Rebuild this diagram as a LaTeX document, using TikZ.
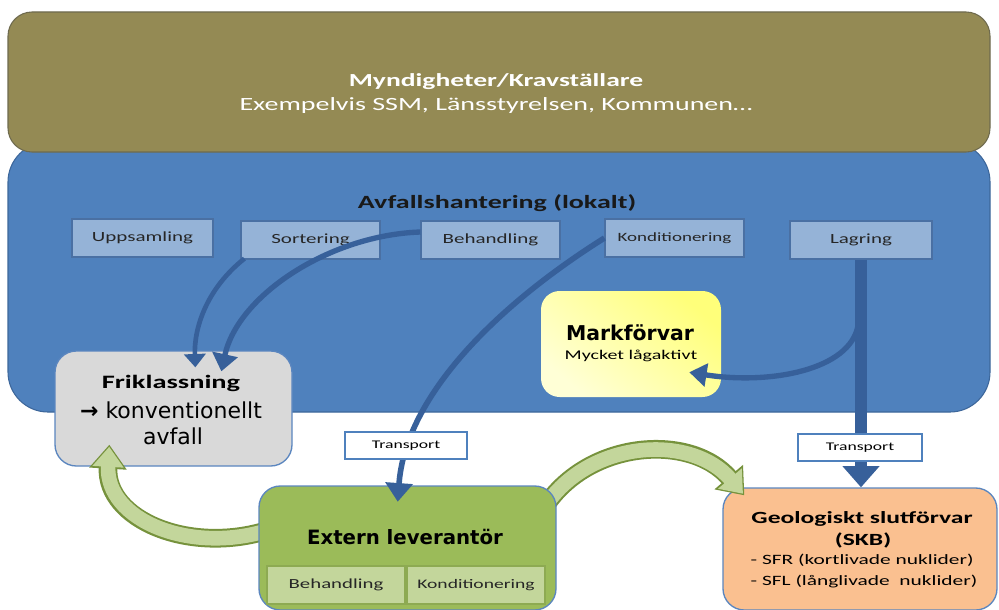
\documentclass[tikz,border=0pt]{standalone}
\usepackage{fontspec}
\setmainfont{Carlito}[FakeStretch=1.5]
\newfontfamily\vfont{DejaVu Sans}
\usetikzlibrary{arrows.meta,calc}
\definecolor{olivebg}{HTML}{948A54}
\definecolor{olivebd}{HTML}{6E6A4E}
\definecolor{bluebg}{HTML}{4F81BD}
\definecolor{bluebd}{HTML}{3D679B}
\definecolor{sboxbg}{HTML}{95B3D7}
\definecolor{sboxbd}{HTML}{4A70A3}
\definecolor{arrowblue}{HTML}{37609A}
\definecolor{frikbg}{HTML}{D9D9D9}
\definecolor{frambd}{HTML}{5B86BF}
\definecolor{yelA}{HTML}{FFFF7A}
\definecolor{yelB}{HTML}{FFFFD6}
\definecolor{extbg}{HTML}{9BBB59}
\definecolor{subbg}{HTML}{C3D69B}
\definecolor{subbd}{HTML}{8DAA52}
\definecolor{geobg}{HTML}{FAC090}
\definecolor{garrbg}{HTML}{C3D69B}
\definecolor{garrbd}{HTML}{76923C}
\begin{document}
\begin{tikzpicture}[x=0.75pt,y=-0.75pt,
  sz/.style 2 args={minimum width=#1*0.75pt, minimum height=#2*0.75pt, inner sep=0pt},
  smallbox/.style={draw=sboxbd, fill=sboxbg, line width=0.9pt, font=\fontsize{10.5}{12}\selectfont, text=black!85},
  subbox/.style={draw=subbd, fill=subbg, line width=0.9pt, text=black!85},
  tbox/.style={draw=bluebg, fill=white, line width=1.1pt, font=\fontsize{8.8}{10}\selectfont, sz={122}{27}},
  bigbox/.style={draw=frambd, line width=1pt, rounded corners=16pt},
  lbl/.style={inner sep=0pt},
  barrow/.style={draw=arrowblue, line cap=butt},
  gout/.style={draw=garrbd, line width=14pt, -{Triangle[length=18pt,width=27pt]}},
  gin/.style={draw=garrbg, line width=11pt, shorten >=1.6pt, -{Triangle[length=15pt,width=22.5pt]}}
]
\useasboundingbox (0,0) rectangle (999,610);
\fill[white] (0,0) rectangle (999,610);

% main areas
\node[draw=bluebd, fill=bluebg, rounded corners=30pt, line width=0.8pt, sz={982}{270}] (local) at (499,277) {};
\node[draw=olivebd, fill=olivebg, rounded corners=18pt, line width=0.8pt, sz={982}{140}] (auth) at (499,82) {};

\node[lbl, text=white, font=\bfseries\fontsize{13.8}{16}\selectfont] (authT) at (496,82) {Myndigheter/Kravställare};
\node[lbl, text=white, font=\fontsize{14}{16}\selectfont] (authS) at (496,106) {Exempelvis SSM, Länsstyrelsen, Kommunen…};
\node[lbl, text=black!90, font=\bfseries\fontsize{14}{16}\selectfont] (localT) at (497,203) {Avfallshantering (lokalt)};

% process steps
\node[smallbox, sz={141}{38}] (upp) at (142.5,238) {Uppsamling};
\node[smallbox, sz={139}{38}] (sort) at (310.5,240) {Sortering};
\node[smallbox, sz={139}{38}] (beh) at (490.5,240) {Behandling};
\node[smallbox, sz={139}{38}, font=\fontsize{9.5}{11}\selectfont] (kond) at (674.5,238) {Konditionering};
\node[smallbox, sz={142}{38}] (lag) at (861,240) {Lagring};

% Markförvar
\node[rounded corners=14pt, top color=yelA, bottom color=yelB, shading angle=-40, sz={180}{106}] (mark) at (631,344) {};
\node[lbl, font=\vfont\bfseries\fontsize{15.3}{17}\selectfont] (markT) at (630,333) {Markförvar};
\node[lbl, font=\fontsize{10}{11}\selectfont] (markS) at (631,356) {Mycket lågaktivt};

% Friklassning
\node[bigbox, fill=frikbg, sz={237}{115}] (frik) at (173.5,408.5) {};
\node[lbl, font=\bfseries\fontsize{14.2}{16}\selectfont] (frikT) at (171,383) {Friklassning};
\node[lbl, font=\vfont\fontsize{16.5}{18}\selectfont] (frikA) at (171,410) {{\bfseries →} konventionellt};
\node[lbl, font=\vfont\fontsize{16.5}{18}\selectfont] (frikB) at (173,436) {avfall};

% Geologiskt slutförvar
\node[bigbox, fill=geobg, sz={274}{122}] (geo) at (860,549) {};
\node[lbl, font=\bfseries\fontsize{12.8}{15}\selectfont] (geoT) at (862,519) {Geologiskt slutförvar};
\node[lbl, font=\bfseries\fontsize{12.8}{15}\selectfont] (geoS) at (863,540) {(SKB)};
\node[lbl, font=\fontsize{10.7}{15.75}\selectfont, align=left] (geoL) at (864,571) {- SFR (kortlivade nuklider)\\- SFL (långlivade~~nuklider)};

% footprint of Extern leverantör (for anchors)
\node[sz={297}{124}] (ext) at (407.5,548) {};

% green curved arrows
\draw[gout] ($(ext.west)+(10,-18)$) .. controls (190,555) and (105,520) .. ($(frik.south west)+(55,-22)$);
\draw[gin]  ($(ext.west)+(10,-18)$) .. controls (190,555) and (105,520) .. ($(frik.south west)+(55,-22)$);
\draw[gout] ($(ext.north east)+(-14,25)$) .. controls (585,440) and (690,432) .. ($(geo.north west)+(22,8)$);
\draw[gin]  ($(ext.north east)+(-14,25)$) .. controls (585,440) and (690,432) .. ($(geo.north west)+(22,8)$);

% Extern leverantör
\node[bigbox, fill=extbg, sz={297}{124}] (extbox) at (ext) {};
\node[lbl, font=\vfont\bfseries\fontsize{14.8}{17}\selectfont] (extT) at (405,537) {Extern leverantör};
\node[subbox, sz={138}{38}, font=\fontsize{10.4}{12}\selectfont] (eb) at (336,585) {Behandling};
\node[subbox, sz={138}{38}, font=\fontsize{9.8}{12}\selectfont] (ek) at (476,585) {Konditionering};

% blue arrows
\draw[barrow, line width=3.5pt, -{Triangle[length=10pt,width=16pt]}] ($(sort.south west)+(4,-1)$) .. controls (205,290) and (194,330) .. ($(frik.north west)+(141,17)$);
\draw[barrow, line width=4pt, -{Triangle[length=13pt,width=19pt]}] ($(beh.west)+(0,-8)$) .. controls (330,235) and (238,295) .. ($(frik.north west)+(167,21)$);
\draw[barrow, line width=4.2pt, -{Triangle[length=14pt,width=20pt]}] (kond.west) .. controls (490,310) and (405,400) .. ($(ext.north west)+(139,16)$);
\draw[barrow, line width=9.5pt, -{Triangle[length=16pt,width=27pt]}] (lag.south) -- (lag.south |- geo.north);
\draw[barrow, line width=4pt, -{Triangle[length=13pt,width=17pt]}] ($(lag.south)+(-3,66)$) .. controls (850,370) and (770,385) .. ($(mark.south east)+(-32,-25)$);

% transport labels
\node[tbox] (tr1) at (406,445.5) {Transport};
\node[tbox, sz={124}{27}] (tr2) at (860,447.5) {Transport};
\end{tikzpicture}
\end{document}
